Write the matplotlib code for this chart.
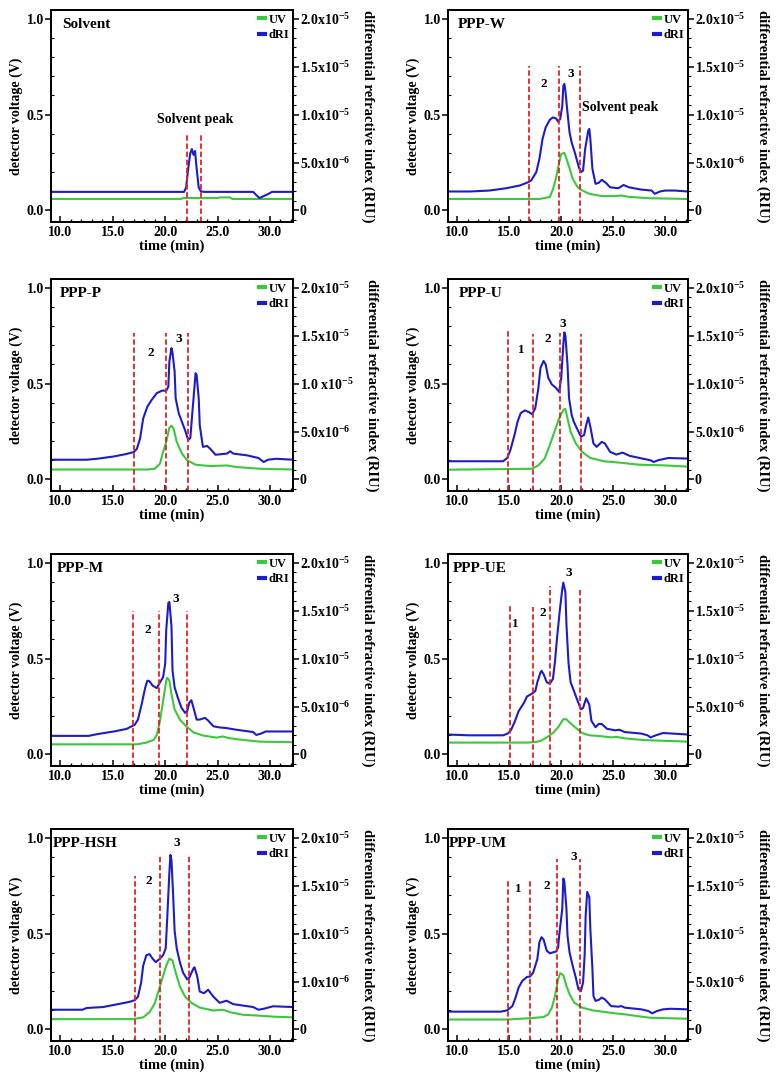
import matplotlib.pyplot as plt
import numpy as np
from matplotlib.lines import Line2D
from matplotlib.ticker import MultipleLocator

plt.rcParams['font.family'] = ['Liberation Serif', 'DejaVu Serif']
plt.rcParams['font.weight'] = 'bold'
plt.rcParams['axes.labelweight'] = 'bold'
plt.rcParams['mathtext.fontset'] = 'custom'
plt.rcParams['mathtext.rm'] = 'Liberation Serif:bold'
plt.rcParams['mathtext.it'] = 'Liberation Serif:bold'
plt.rcParams['mathtext.bf'] = 'Liberation Serif:bold'

# ---- data: time (min), UV (V), dRI (x1e-5 RIU) ----
names = ['Solvent', 'PPP-W', 'PPP-P', 'PPP-U', 'PPP-M', 'PPP-UE', 'PPP-HSH', 'PPP-UM']

solvent_uv_t = [9.1, 21.5, 21.7, 25.0, 25.2, 26.2, 26.4, 32.2]
solvent_uv = [0.06, 0.06, 0.065, 0.065, 0.068, 0.068, 0.06, 0.06]
solvent_dri_t = [9.1, 21.8, 22.0, 22.2, 22.4, 22.55, 22.7, 22.85, 23.0, 23.2, 23.4, 23.7,
                 28.4, 28.7, 29.0, 29.4, 29.8, 30.2, 32.2]
solvent_dri = [0.194, 0.194, 0.24, 0.44, 0.60, 0.64, 0.58, 0.62, 0.44, 0.24, 0.20, 0.194,
               0.194, 0.16, 0.13, 0.15, 0.17, 0.194, 0.194]

w_uv_t = [9.1, 17.9, 18.9, 19.2, 19.5, 19.8, 20.0, 20.3, 20.5, 20.8, 21.1, 21.6, 22.0, 22.7,
          23.9, 25.2, 25.8, 26.5, 28.4, 32.2]
w_uv = [0.06, 0.06, 0.07, 0.11, 0.17, 0.25, 0.295, 0.30, 0.27, 0.22, 0.165, 0.12, 0.105, 0.087,
        0.075, 0.075, 0.078, 0.071, 0.064, 0.06]
w_dri_t = [9.1, 11.2, 13.1, 14.7, 16.0, 16.8, 17.1, 17.6, 17.9, 18.2, 18.5, 18.9, 19.2, 19.5,
           19.7, 19.9, 20.1, 20.2, 20.3, 20.4, 20.6, 20.8, 21.0, 21.3, 21.7, 21.9, 22.1, 22.3,
           22.6, 22.7, 22.8, 23.0, 23.3, 23.6, 23.9, 24.3, 24.7, 25.5, 26.0, 26.5, 27.7, 28.7,
           29.0, 29.5, 30.0, 30.9, 32.2]
w_dri = [0.198, 0.198, 0.208, 0.232, 0.26, 0.294, 0.312, 0.40, 0.54, 0.746, 0.866, 0.946, 0.97,
         0.96, 0.926, 0.954, 1.092, 1.30, 1.32, 1.248, 1.02, 0.814, 0.71, 0.606, 0.45, 0.40,
         0.416, 0.64, 0.832, 0.85, 0.746, 0.434, 0.278, 0.288, 0.32, 0.288, 0.242, 0.232, 0.266,
         0.242, 0.218, 0.208, 0.174, 0.198, 0.208, 0.208, 0.198]

p_uv_t = [9.1, 18.3, 19.0, 19.5, 19.8, 20.1, 20.4, 20.6, 20.8, 21.1, 21.6, 22.1, 22.9, 24.3,
          25.9, 26.8, 29.0, 32.2]
p_uv = [0.052, 0.052, 0.056, 0.082, 0.143, 0.196, 0.27, 0.28, 0.266, 0.196, 0.135, 0.10, 0.077,
        0.07, 0.073, 0.065, 0.056, 0.052]
p_dri_t = [9.1, 12.5, 13.5, 15.1, 16.3, 17.0, 17.3, 17.6, 17.9, 18.3, 18.7, 19.2, 19.7, 20.1,
           20.3, 20.4, 20.6, 20.7, 20.9, 21.0, 21.3, 21.6, 21.9, 22.2, 22.4, 22.6, 22.9, 23.0,
           23.2, 23.3, 23.6, 24.0, 24.3, 24.8, 25.9, 26.2, 26.5, 27.8, 28.9, 29.4, 29.8, 30.6, 32.2]
p_dri = [0.206, 0.206, 0.216, 0.24, 0.266, 0.286, 0.32, 0.426, 0.636, 0.76, 0.828, 0.90, 0.926,
         0.926, 0.968, 1.23, 1.37, 1.32, 1.126, 0.846, 0.688, 0.60, 0.514, 0.41, 0.434, 0.706,
         1.108, 1.09, 0.846, 0.566, 0.34, 0.35, 0.32, 0.258, 0.27, 0.294, 0.27, 0.252, 0.224,
         0.182, 0.206, 0.216, 0.206]

u_uv_t = [9.1, 17.2, 17.8, 18.4, 18.9, 19.4, 19.8, 20.2, 20.4, 20.6, 20.9, 21.4, 22.0, 22.8,
          24.1, 25.6, 27.5, 29.7, 32.2]
u_uv = [0.051, 0.056, 0.074, 0.109, 0.179, 0.258, 0.319, 0.363, 0.368, 0.319, 0.249, 0.188,
        0.144, 0.112, 0.095, 0.088, 0.077, 0.074, 0.067]
u_dri_t = [9.1, 14.4, 14.8, 15.1, 15.5, 15.8, 16.1, 16.5, 16.9, 17.2, 17.5, 17.8, 18.0, 18.3,
           18.5, 18.75, 19.1, 19.5, 19.8, 20.0, 20.2, 20.3, 20.4, 20.6, 20.75, 21.0, 21.2, 21.5,
           21.9, 22.2, 22.4, 22.6, 22.8, 23.1, 23.4, 23.9, 24.2, 24.7, 25.3, 25.9, 26.6, 27.8,
           28.6, 28.9, 29.3, 30.3, 32.2]
u_dri = [0.19, 0.19, 0.224, 0.306, 0.464, 0.604, 0.692, 0.72, 0.702, 0.68, 0.744, 0.954, 1.164,
         1.236, 1.20, 1.06, 0.99, 0.954, 0.912, 1.06, 1.41, 1.534, 1.50, 1.20, 0.85, 0.674, 0.604,
         0.534, 0.446, 0.464, 0.568, 0.646, 0.55, 0.376, 0.34, 0.392, 0.376, 0.288, 0.26, 0.28,
         0.246, 0.218, 0.20, 0.182, 0.20, 0.224, 0.218]

m_uv_t = [9.1, 17.3, 18.2, 18.9, 19.2, 19.5, 19.8, 20.1, 20.2, 20.4, 20.6, 20.9, 21.4, 22.0,
          22.7, 23.6, 24.9, 25.5, 26.1, 27.4, 29.0, 32.2]
m_uv = [0.053, 0.053, 0.062, 0.076, 0.102, 0.173, 0.279, 0.385, 0.40, 0.385, 0.314, 0.235,
        0.182, 0.147, 0.115, 0.099, 0.088, 0.094, 0.085, 0.076, 0.067, 0.064]
m_dri_t = [9.1, 12.7, 13.5, 15.1, 16.3, 17.1, 17.4, 17.75, 18.1, 18.3, 18.5, 18.8, 19.2, 19.5,
           19.8, 20.0, 20.1, 20.3, 20.4, 20.6, 20.7, 20.9, 21.2, 21.55, 21.9, 22.1, 22.3, 22.5,
           22.7, 23.0, 23.3, 23.8, 24.1, 24.6, 25.2, 25.8, 26.8, 28.4, 28.7, 29.1, 29.6, 32.2]
m_dri = [0.194, 0.194, 0.212, 0.24, 0.266, 0.31, 0.364, 0.522, 0.70, 0.77, 0.764, 0.718, 0.692,
         0.752, 0.806, 0.946, 1.30, 1.58, 1.59, 1.336, 0.876, 0.70, 0.594, 0.488, 0.434, 0.452,
         0.54, 0.566, 0.488, 0.364, 0.364, 0.382, 0.354, 0.294, 0.282, 0.276, 0.258, 0.234,
         0.204, 0.216, 0.24, 0.24]

ue_uv_t = [9.1, 16.7, 17.3, 18.0, 18.6, 19.2, 19.7, 20.2, 20.5, 20.9, 21.4, 22.0, 22.7, 23.9,
           24.8, 25.3, 26.1, 28.0, 32.2]
ue_uv = [0.062, 0.062, 0.064, 0.07, 0.089, 0.112, 0.142, 0.184, 0.183, 0.162, 0.139, 0.112,
         0.10, 0.095, 0.089, 0.092, 0.084, 0.075, 0.067]
ue_dri_t = [9.1, 11.1, 14.4, 14.85, 15.15, 15.5, 15.9, 16.4, 16.7, 17.2, 17.5, 17.7, 18.0, 18.1,
            18.3, 18.6, 18.9, 19.2, 19.4, 19.6, 19.85, 20.1, 20.2, 20.4, 20.5, 20.7, 20.9, 21.25,
            21.6, 21.9, 22.1, 22.3, 22.4, 22.7, 22.9, 23.3, 23.6, 23.9, 24.4, 25.2, 25.6, 26.1,
            27.7, 28.3, 28.6, 29.1, 29.8, 32.2]
ue_dri = [0.208, 0.20, 0.20, 0.218, 0.252, 0.336, 0.452, 0.536, 0.604, 0.636, 0.66, 0.754, 0.854,
          0.872, 0.838, 0.754, 0.738, 0.788, 0.972, 1.222, 1.49, 1.726, 1.792, 1.692, 1.356,
          0.954, 0.754, 0.654, 0.552, 0.47, 0.486, 0.552, 0.586, 0.52, 0.352, 0.284, 0.318,
          0.318, 0.268, 0.252, 0.258, 0.234, 0.218, 0.20, 0.178, 0.20, 0.224, 0.208]

hsh_uv_t = [9.1, 16.9, 17.9, 18.5, 19.0, 19.4, 19.8, 20.1, 20.4, 20.7, 21.0, 21.4, 21.9, 22.5,
            23.3, 24.6, 25.5, 26.2, 27.4, 29.0, 30.3, 32.2]
hsh_uv = [0.054, 0.054, 0.063, 0.09, 0.135, 0.207, 0.279, 0.333, 0.369, 0.36, 0.297, 0.225,
          0.171, 0.139, 0.114, 0.099, 0.103, 0.09, 0.077, 0.072, 0.067, 0.063]
hsh_dri_t = [9.1, 12.1, 12.5, 14.05, 15.3, 16.6, 17.1, 17.4, 17.7, 17.9, 18.2, 18.5, 18.8, 19.1,
             19.5, 19.8, 20.05, 20.2, 20.4, 20.5, 20.6, 20.75, 20.9, 21.1, 21.4, 21.7, 22.1,
             22.3, 22.7, 22.8, 23.05, 23.3, 23.7, 24.1, 24.6, 25.2, 25.85, 26.5, 28.4, 28.9,
             29.4, 30.3, 32.2]
hsh_dri = [0.206, 0.206, 0.224, 0.234, 0.26, 0.288, 0.306, 0.342, 0.486, 0.666, 0.774, 0.786,
           0.738, 0.702, 0.738, 0.774, 0.846, 1.172, 1.64, 1.82, 1.766, 1.424, 1.028, 0.846,
           0.702, 0.594, 0.522, 0.54, 0.638, 0.648, 0.558, 0.396, 0.378, 0.414, 0.342, 0.278,
           0.30, 0.264, 0.234, 0.206, 0.216, 0.242, 0.234]

um_uv_t = [9.1, 14.8, 16.1, 17.3, 18.3, 18.75, 19.1, 19.4, 19.7, 19.9, 20.2, 20.5, 20.8, 21.25,
           22.0, 23.0, 24.2, 25.2, 26.1, 27.3, 28.6, 32.2]
um_uv = [0.052, 0.052, 0.056, 0.06, 0.065, 0.079, 0.114, 0.175, 0.262, 0.294, 0.283, 0.227,
         0.184, 0.14, 0.114, 0.10, 0.091, 0.084, 0.079, 0.07, 0.061, 0.056]
um_dri_t = [9.1, 14.2, 14.8, 15.3, 15.6, 15.9, 16.25, 16.7, 17.0, 17.3, 17.7, 17.9, 18.1, 18.3,
            18.6, 18.9, 19.2, 19.5, 19.7, 19.8, 20.1, 20.2, 20.3, 20.5, 20.6, 20.8, 21.1, 21.4,
            21.65, 21.9, 22.1, 22.25, 22.35, 22.5, 22.7, 22.8, 23.0, 23.1, 23.3, 23.6, 23.9,
            24.2, 24.8, 25.5, 25.8, 26.1, 27.7, 28.4, 28.75, 29.2, 29.8, 30.5, 32.2]
um_dri = [0.186, 0.186, 0.20, 0.244, 0.332, 0.438, 0.506, 0.548, 0.552, 0.594, 0.734, 0.91,
          0.962, 0.938, 0.822, 0.794, 0.804, 0.812, 0.856, 0.98, 1.26, 1.574, 1.54, 1.26, 0.98,
          0.804, 0.664, 0.542, 0.42, 0.402, 0.49, 0.77, 1.188, 1.434, 1.38, 1.048, 0.63, 0.35,
          0.298, 0.308, 0.332, 0.314, 0.244, 0.238, 0.244, 0.228, 0.21, 0.192, 0.168, 0.192,
          0.21, 0.216, 0.21]

# fraction boundaries (min) and how high the dashed marks reach (V)
cut_times = [[22.1, 23.4], [16.9, 19.8, 21.8], [17.0, 20.1, 22.2], [14.85, 17.25, 19.85, 21.9],
             [16.95, 19.4, 22.1], [15.1, 17.3, 18.9, 21.8], [17.1, 19.5, 22.25],
             [14.9, 17.0, 19.6, 21.8]]
cut_tops = [[0.405, 0.405], [0.754, 0.754, 0.754], [0.764, 0.764, 0.764],
            [0.775, 0.76, 0.765, 0.76], [0.75, 0.75, 0.75], [0.782, 0.77, 0.88, 0.863],
            [0.80, 0.91, 0.906], [0.783, 0.773, 0.888, 0.888]]

# annotations: (text, time, V)
notes = [
    [('Solvent peak', 22.9, 0.475)],
    [('2', 18.3, 0.66), ('3', 20.9, 0.71), ('Solvent peak', 25.7, 0.537)],
    [('2', 18.6, 0.66), ('3', 21.3, 0.73)],
    [('1', 16.15, 0.675), ('2', 18.7, 0.73), ('3', 20.1, 0.81)],
    [('2', 18.3, 0.647), ('3', 21.0, 0.81)],
    [('1', 15.6, 0.68), ('2', 18.2, 0.737), ('3', 20.7, 0.946)],
    [('2', 18.4, 0.775), ('3', 21.1, 0.973)],
    [('1', 15.9, 0.73), ('2', 18.6, 0.75), ('3', 21.2, 0.90)],
]

ri_ticks = [0, 0.5e-5, 1.0e-5, 1.5e-5, 2.0e-5]
ri_labels = ['0', r'5.0x10$^{-6}$', r'1.0x10$^{-5}$', r'1.5x10$^{-5}$', r'2.0x10$^{-5}$']
ri_labels_p = ['0', r'5.0x10$^{-6}$', r'1.0 x10$^{-5}$', r'1.5x10$^{-5}$', r'2.0x10$^{-5}$']
ri_labels_hsh = ['0', r'1.0x10$^{-6}$', r'1.0x10$^{-5}$', r'1.5x10$^{-5}$', r'2.0x10$^{-5}$']

uv_t = [solvent_uv_t, w_uv_t, p_uv_t, u_uv_t, m_uv_t, ue_uv_t, hsh_uv_t, um_uv_t]
uv_v = [solvent_uv, w_uv, p_uv, u_uv, m_uv, ue_uv, hsh_uv, um_uv]
dri_t = [solvent_dri_t, w_dri_t, p_dri_t, u_dri_t, m_dri_t, ue_dri_t, hsh_dri_t, um_dri_t]
dri_v = [solvent_dri, w_dri, p_dri, u_dri, m_dri, ue_dri, hsh_dri, um_dri]
ri_tick_text = [ri_labels, ri_labels, ri_labels_p, ri_labels, ri_labels, ri_labels,
                ri_labels_hsh, ri_labels]

# layout (pixels in a 780x1083 canvas)
W, H = 780, 1083
col_left = [51, 448]
col_width = [242, 240]
row_top = [10, 279, 554, 829]
ax_h = 212
title_x = [0.045, 0.04, 0.037, 0.047, 0.025, 0.02, 0.008, 0.005]

green = '#3cc83c'
blue = '#1c1ccc'
red = '#e62020'
ylo, yhi = -0.06, 1.045

fig = plt.figure(figsize=(W / 100, H / 100), dpi=100)

for i, name in enumerate(names):
    r, c = divmod(i, 2)
    rect = [col_left[c] / W, 1 - (row_top[r] + ax_h) / H, col_width[c] / W, ax_h / H]
    ax = fig.add_axes(rect)
    ax2 = ax.twinx()

    ax.plot(uv_t[i], uv_v[i], color=green, lw=1.5)
    ax2.plot(dri_t[i], np.array(dri_v[i]) * 1e-5, color=blue, lw=1.5)

    ax.set_xlim(9.1, 32.2)
    ax.set_ylim(ylo, yhi)
    ax2.set_ylim(ylo * 2e-5, yhi * 2e-5)

    # dashed fraction cuts, drawn above the curves
    ax2.vlines(cut_times[i], ylo, cut_tops[i], colors=red, linestyles=(0, (3, 1.5)),
               lw=1.3, transform=ax.transData)
    for txt, tx, ty in notes[i]:
        ax2.text(tx, ty, txt, transform=ax.transData, ha='center', va='center',
                 fontsize=10 if len(txt) > 1 else 9.5, fontweight='bold')

    ax2.text(title_x[i], 0.93, name, transform=ax.transAxes, fontsize=11,
             fontweight='bold', va='center')

    handles = [Line2D([], [], color=green, lw=3), Line2D([], [], color=blue, lw=3)]
    ax2.legend(handles, ['UV', 'dRI'], loc='upper right', frameon=False, fontsize=9,
               handlelength=0.5, handletextpad=0.3, labelspacing=0.25,
               borderaxespad=0.1, borderpad=0.2)

    ax.set_xticks([10, 15, 20, 25, 30])
    ax.set_xticklabels(['10.0', '15.0', '20.0', '25.0', '30.0'])
    ax.xaxis.set_minor_locator(MultipleLocator(1))
    ax.set_yticks([0, 0.5, 1.0])
    ax.set_yticklabels(['0.0', '0.5', '1.0'])
    ax.yaxis.set_minor_locator(MultipleLocator(0.1))
    ax.tick_params(axis='x', which='major', direction='in', length=4, width=1.1,
                   labelsize=10, pad=3)
    ax.tick_params(axis='x', which='minor', direction='in', length=2.5, width=1)
    ax.tick_params(axis='y', which='major', direction='out', length=4, width=1.1,
                   labelsize=10, pad=1)
    ax.tick_params(axis='y', which='minor', direction='in', length=2, width=0.8)

    ax2.set_yticks(ri_ticks)
    ax2.set_yticklabels(ri_tick_text[i])
    ax2.yaxis.set_minor_locator(MultipleLocator(1e-6))
    ax2.tick_params(axis='y', which='major', direction='out', length=4, width=1.1,
                    labelsize=10, pad=1)
    ax2.tick_params(axis='y', which='minor', direction='out', length=2, width=0.8)

    for a in (ax, ax2):
        for s in a.spines.values():
            s.set_linewidth(1.3)

    ax.set_xlabel('time (min)', fontsize=10.5, labelpad=0)
    ax.set_ylabel('detector voltage (V)', fontsize=10, labelpad=3)
    ax2.set_ylabel('differential refractive index (RIU)', fontsize=10.5, rotation=270,
                   va='bottom', labelpad=8)

fig.savefig('out.png', dpi=100)
